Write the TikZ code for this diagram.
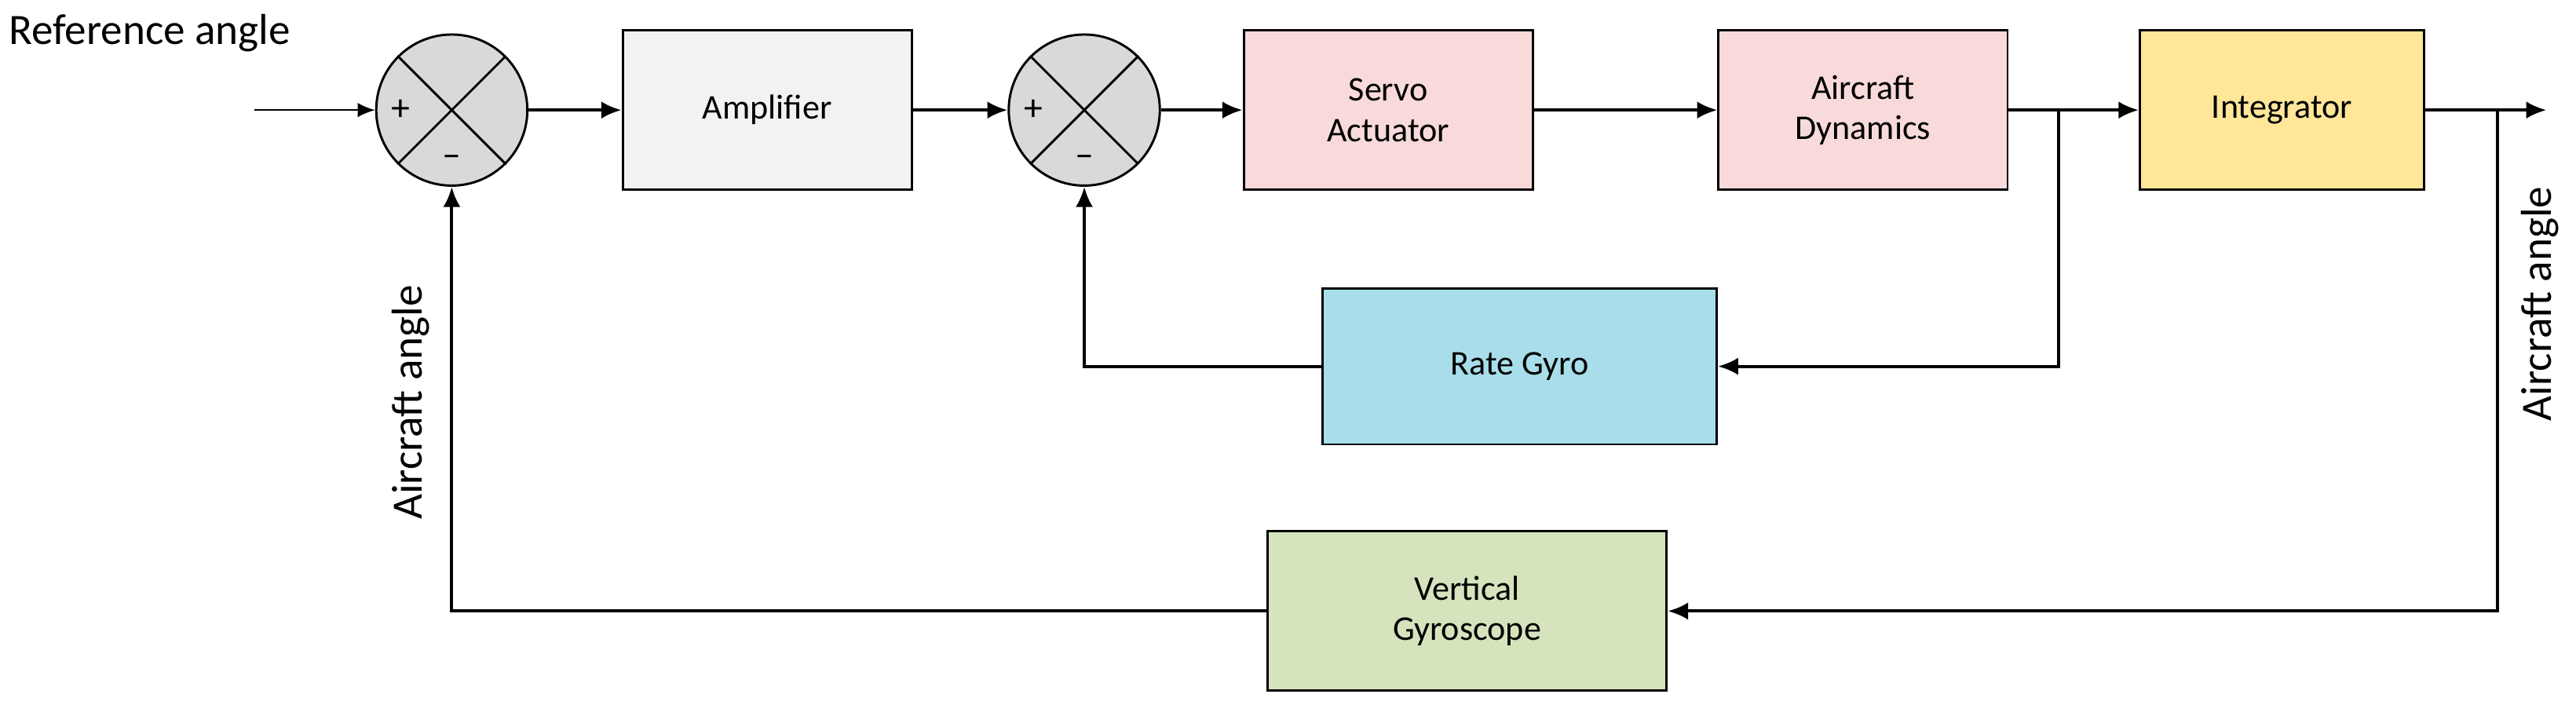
\documentclass[tikz,border=0pt]{standalone}
\usepackage{fontspec}
\setmainfont{Carlito}
\usetikzlibrary{arrows.meta}
\definecolor{cGray}{HTML}{F2F2F2}
\definecolor{cPink}{HTML}{F8DADA}
\definecolor{cYellow}{HTML}{FFE699}
\definecolor{cBlue}{HTML}{A8DEEA}
\definecolor{cGreen}{HTML}{D6E4BD}
\definecolor{cSum}{HTML}{D9D9D9}
\begin{document}
\begin{tikzpicture}[x=0.02cm,y=-0.02cm,
  blk/.style={draw, line width=0.8pt, minimum width=3.52cm, minimum height=1.94cm,
    align=center, font=\fontsize{12}{14}\selectfont},
  sum/.style={draw, circle, fill=cSum, line width=0.8pt, minimum size=1.84cm, inner sep=0pt},
  con/.style={line width=1.1pt, -{Latex[length=7pt,width=6pt]}},
  lbl/.style={font=\fontsize{15}{18}\selectfont}]
\useasboundingbox (0,0) rectangle (1568,429);
\node[sum] (s1) at (275,67) {};
\node[sum] (s2) at (660,67) {};
\foreach \s in {s1,s2}{
  \draw[line width=0.8pt] (\s.north west) -- (\s.south east) (\s.north east) -- (\s.south west);
  \node[font=\fontsize{13}{14}\selectfont] at ([xshift=-0.62cm]\s.center) {+};
  \node[font=\fontsize{13}{14}\selectfont] at ([yshift=-0.62cm]\s.center) {--};
}
\node[blk, fill=cGray] (amp) at (467,67) {Amplifier};
\node[blk, fill=cPink] (servo) at (845,67) {Servo\\Actuator};
\node[blk, fill=cPink] (dyn) at (1134,67) {Aircraft\\Dynamics};
\node[blk, fill=cYellow, minimum width=3.46cm] (int) at (1389,67) {Integrator};
\node[blk, fill=cBlue, minimum width=4.8cm, minimum height=1.9cm] (rg) at (925,223) {Rate Gyro};
\node[blk, fill=cGreen, minimum width=4.86cm, minimum height=1.94cm] (vg) at (893,372) {Vertical\\Gyroscope};
\node[lbl, anchor=west, inner sep=0pt] (ref) at (5,20) {Reference angle};
\node[lbl, rotate=90] (a1) at (250,245) {Aircraft angle};
\node[lbl, rotate=90] (a2) at (1546,185) {Aircraft angle};
\coordinate (in) at (155,67);
\coordinate (out) at (1550,67);
\coordinate (b1) at (1253,67);
\coordinate (b2) at (1520,67);
\draw[line width=0.6pt, -{Latex[length=6pt,width=5pt]}] (in) -- (s1);
\draw[con] (s1) -- (amp);
\draw[con] (amp) -- (s2);
\draw[con] (s2) -- (servo);
\draw[con] (servo) -- (dyn);
\draw[con] (dyn) -- (int);
\draw[con] (int) -- (out);
\draw[con] (b1) |- (rg);
\draw[con] (rg) -| (s2);
\draw[con] (b2) |- (vg);
\draw[con] (vg) -| (s1);
\end{tikzpicture}
\end{document}
